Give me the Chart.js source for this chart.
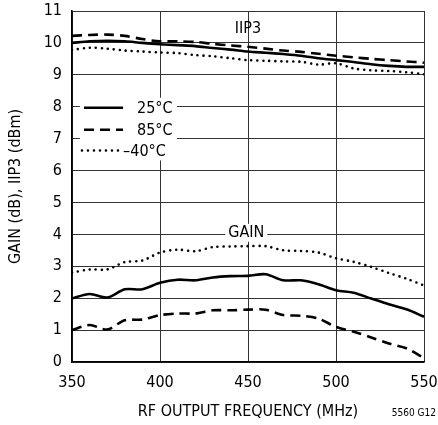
<!DOCTYPE html>
<html>
<head>
<meta charset="utf-8">
<script src="https://cdn.jsdelivr.net/npm/chart.js@4"></script>
<style>
  html, body { margin: 0; padding: 0; background: #fff; }
  #wrap { position: relative; width: 438px; height: 425px; }
</style>
</head>
<body>
<div id="wrap"><canvas id="chart" width="438" height="425"></canvas></div>
<script>
const FONT = "'Liberation Sans Narrow', 'DejaVu Sans Condensed', 'Liberation Sans', sans-serif";

const freqs = [350, 360, 370, 380, 390, 400, 410, 420, 430, 440, 450, 460, 470, 480, 490, 500, 510, 520, 530, 540, 550];
const xTicks = [350, 400, 450, 500, 550];

const iip3_25 = [10.0, 10.05, 10.07, 10.05, 10.0, 9.96, 9.93, 9.9, 9.84, 9.79, 9.73, 9.69, 9.65, 9.6, 9.52, 9.46, 9.4, 9.33, 9.28, 9.25, 9.25];
const iip3_85 = [10.22, 10.25, 10.26, 10.22, 10.12, 10.05, 10.05, 10.03, 9.97, 9.92, 9.88, 9.82, 9.76, 9.72, 9.66, 9.6, 9.55, 9.5, 9.46, 9.42, 9.38];
const iip3_m40 = [9.78, 9.85, 9.82, 9.76, 9.73, 9.7, 9.68, 9.62, 9.58, 9.52, 9.46, 9.44, 9.42, 9.41, 9.32, 9.36, 9.2, 9.14, 9.12, 9.08, 9.02];

const gain_25 = [1.99, 2.13, 2.02, 2.28, 2.28, 2.48, 2.58, 2.56, 2.65, 2.69, 2.7, 2.75, 2.56, 2.56, 2.44, 2.25, 2.17, 1.99, 1.81, 1.65, 1.42];
const gain_85 = [1.0, 1.16, 1.02, 1.31, 1.33, 1.47, 1.52, 1.52, 1.62, 1.62, 1.64, 1.64, 1.47, 1.45, 1.36, 1.1, 0.95, 0.77, 0.58, 0.43, 0.12];
const gain_m40 = [2.8, 2.9, 2.9, 3.13, 3.18, 3.43, 3.52, 3.47, 3.6, 3.62, 3.63, 3.63, 3.5, 3.48, 3.43, 3.25, 3.14, 2.98, 2.79, 2.61, 2.4];

const legendLabels = ['25°C', '85°C', '–40°C'];
const curveLabels = ['IIP3', 'GAIN'];

const styles = [
  { borderDash: [], borderCapStyle: 'butt' },
  { borderDash: [10, 6], borderCapStyle: 'butt' },
  { borderDash: [0, 6], borderCapStyle: 'round' }
];

function series(data, s) {
  return {
    data: data.map((v, i) => ({ x: freqs[i], y: v })),
    borderColor: '#000',
    borderWidth: 2.6,
    borderDash: styles[s].borderDash,
    borderCapStyle: styles[s].borderCapStyle,
    pointRadius: 0,
    tension: 0.3,
    fill: false
  };
}

const annotate = {
  id: 'annotate',
  afterDatasetsDraw(chart) {
    const ctx = chart.ctx;
    const xs = chart.scales.x, ys = chart.scales.y;
    ctx.save();
    ctx.font = '16px ' + FONT;
    ctx.fillStyle = '#000';
    ctx.textBaseline = 'middle';

    // curve labels
    ctx.textAlign = 'center';
    ctx.fillText(curveLabels[0], xs.getPixelForValue(450), ys.getPixelForValue(10.45));
    const gx = xs.getPixelForValue(449), gy = ys.getPixelForValue(4.05);
    const gw = ctx.measureText(curveLabels[1]).width;
    ctx.fillStyle = '#fff';
    ctx.fillRect(gx - gw / 2 - 3, gy - 9, gw + 6, 18);
    ctx.fillStyle = '#000';
    ctx.fillText(curveLabels[1], gx, gy);

    // legend
    const lx0 = xs.getPixelForValue(356.8), lx1 = xs.getPixelForValue(379);
    const ty = [7.97, 7.28, 6.63].map(v => ys.getPixelForValue(v));
    ctx.fillStyle = '#fff';
    ctx.fillRect(xs.getPixelForValue(354.5), ty[0] - 10, 97, ty[2] - ty[0] + 20);
    ctx.fillStyle = '#000';
    ctx.textAlign = 'left';
    legendLabels.forEach((lab, i) => {
      ctx.beginPath();
      ctx.lineWidth = 2.6;
      ctx.setLineDash(styles[i].borderDash);
      ctx.lineCap = styles[i].borderCapStyle;
      ctx.moveTo(lx0 + (i === 2 ? -2 : 0), ty[i]);
      ctx.lineTo(lx1 + (i === 2 ? -2 : 0), ty[i]);
      ctx.stroke();
      ctx.setLineDash([]);
      ctx.fillText(lab, i === 2 ? lx1 : lx1 + 14, ty[i] + 1);
    });

    // figure id
    ctx.font = '10px ' + FONT;
    ctx.textAlign = 'right';
    ctx.fillText('5560 G12', 436, 413);
    ctx.restore();
  }
};

new Chart(document.getElementById('chart'), {
  type: 'line',
  data: {
    datasets: [
      series(iip3_25, 0), series(iip3_85, 1), series(iip3_m40, 2),
      series(gain_25, 0), series(gain_85, 1), series(gain_m40, 2)
    ]
  },
  options: {
    responsive: false,
    animation: false,
    devicePixelRatio: 1,
    layout: { padding: { top: 11, right: 14, left: 0, bottom: 0 } },
    plugins: { legend: { display: false }, tooltip: { enabled: false } },
    scales: {
      x: {
        type: 'linear',
        min: 350, max: 550,
        afterBuildTicks: (s) => { s.ticks = xTicks.map(v => ({ value: v })); },
        afterFit: (s) => { s.height = 63; s.paddingRight = 0; s.paddingLeft = 0; },
        grid: { color: '#333', lineWidth: 1, drawTicks: false },
        border: { color: '#000', width: 1.6 },
        ticks: { color: '#000', font: { family: FONT, size: 16 }, padding: 11, maxRotation: 0 },
        title: { display: true, text: 'RF OUTPUT FREQUENCY (MHz)', color: '#000', font: { family: FONT, size: 16 }, padding: { top: 2 } }
      },
      y: {
        min: 0, max: 11,
        afterFit: (s) => { s.width = 72; s.paddingTop = 0; s.paddingBottom = 0; },
        grid: { color: '#333', lineWidth: 1, drawTicks: false },
        border: { color: '#000', width: 1.6 },
        ticks: { stepSize: 1, color: '#000', font: { family: FONT, size: 16 }, padding: 10 },
        title: { display: true, text: 'GAIN (dB), IIP3 (dBm)', color: '#000', font: { family: FONT, size: 16 }, padding: { top: 6, bottom: 6 } }
      }
    }
  },
  plugins: [annotate]
});
</script>
</body>
</html>
